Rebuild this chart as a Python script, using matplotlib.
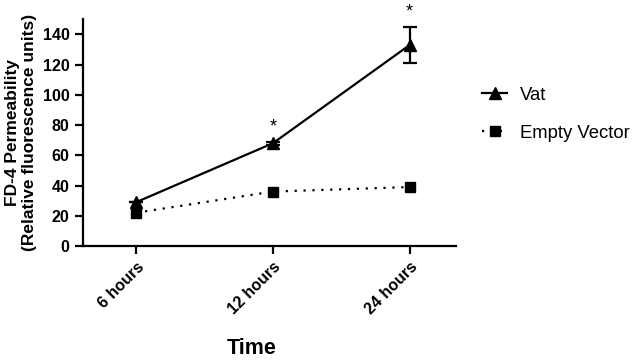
import matplotlib
matplotlib.use("Agg")
import matplotlib.pyplot as plt
from matplotlib.lines import Line2D

plt.rcParams['font.family'] = ['Liberation Sans', 'DejaVu Sans']

categories = ["6 hours", "12 hours", "24 hours"]
vat = [29, 68, 133]
vat_err = [0, 1, 12]
empty_vector = [22, 36, 39]
stars = ["", "*", "*"]

fig = plt.figure(figsize=(6.38, 3.61), dpi=100)
ax = fig.add_axes([0.130, 0.3186, 0.585, 0.628])

x = list(range(len(categories)))
ax.errorbar(x, vat, yerr=vat_err, color='black', lw=1.6, marker='^', ms=9,
            capsize=5, capthick=1.6, elinewidth=1.6, zorder=3)
ax.plot(x, empty_vector, color='black', lw=1.6, ls=(0, (1, 3)), marker='s', ms=7,
        zorder=3)

for xi, v, e, s in zip(x, vat, vat_err, stars):
    if s:
        ax.text(xi, v + e + 4, s, ha='center', va='bottom', fontsize=13)

ax.set_xlim(-0.39, 2.34)
ax.set_ylim(0, 150)
ax.set_yticks(range(0, 141, 20))
ax.set_xticks(x)
ax.set_xticklabels(categories, rotation=45, ha='right', rotation_mode='anchor',
                   fontweight='bold', fontsize=11.5)
for lab in ax.get_yticklabels():
    lab.set_fontweight('bold')
    lab.set_fontsize(11.5)

for side in ['top', 'right']:
    ax.spines[side].set_visible(False)
for side in ['left', 'bottom']:
    ax.spines[side].set_linewidth(1.6)
ax.tick_params(width=1.6, length=6, direction='out')

ax.set_ylabel("FD-4 Permeability\n(Relative fluorescence units)", fontsize=12.5,
              fontweight='bold', labelpad=4)
fig.text(252 / 638, 1 - 348 / 361, "Time", ha='center', va='center',
         fontsize=15.5, fontweight='bold')

handles = [
    Line2D([], [], color='black', lw=1.6, marker='^', ms=9),
    Line2D([], [], color='black', lw=1.6, ls=(0, (1, 3)), marker='s', ms=7),
]
labels = ["Vat", "Empty Vector"]
leg = fig.legend(handles, labels, loc='upper left',
                 bbox_to_anchor=(465 / 638, 1 - 70 / 361),
                 frameon=False, fontsize=13.3, handlelength=1.4,
                 handletextpad=0.7, labelspacing=1.15)

fig.savefig("out.png", dpi=100)
